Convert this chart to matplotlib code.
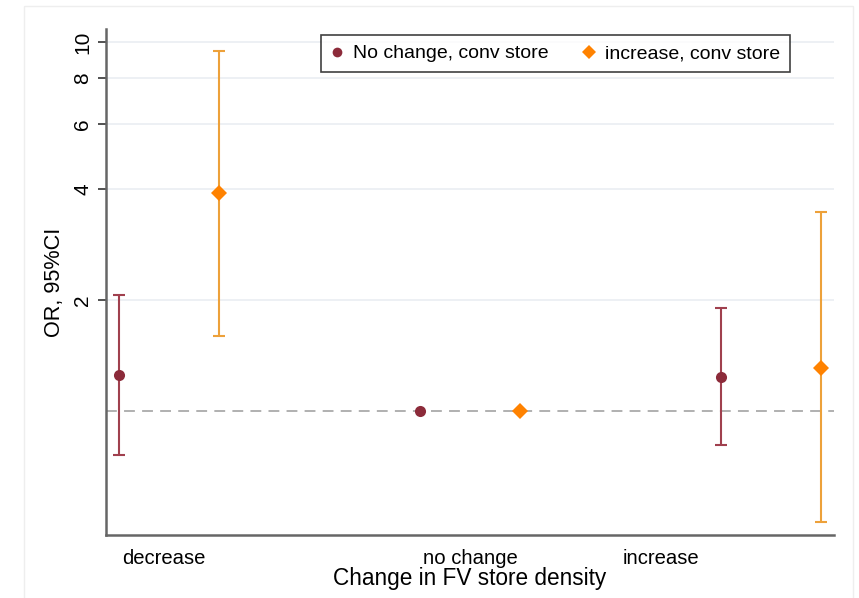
import matplotlib
matplotlib.use("Agg")
from matplotlib import pyplot as plt
from matplotlib.lines import Line2D
from matplotlib.patches import Rectangle

# data (odds ratios with 95% CI)
categories = ["decrease", "no change", "increase"]
label_pos = [0.45, 3.5, 5.4]

x_nochange = [0, 3, 6]
or_nochange = [1.25, 1.0, 1.24]
lo_nochange = [0.76, 1.0, 0.81]
hi_nochange = [2.06, 1.0, 1.90]

x_increase = [1, 4, 7]
or_increase = [3.89, 1.0, 1.31]
lo_increase = [1.60, 1.0, 0.50]
hi_increase = [9.46, 1.0, 3.46]

red = "#8c2b3a"
red_bar = "#a0404e"
orange = "#ff8200"
orange_bar = "#eda13a"

plt.rcParams['font.family'] = ['Liberation Sans', 'DejaVu Sans']

fig = plt.figure(figsize=(8.59, 5.98), dpi=100)
ax = fig.add_axes([106 / 859, 1 - 535 / 598, (834 - 106) / 859, (535 - 29) / 598])

# faint outer region frame
fig.patches.append(Rectangle((24 / 859, -0.01), (853 - 24) / 859, 1 - 6 / 598 + 0.01,
                             transform=fig.transFigure, fill=False,
                             edgecolor="#eeeeee", linewidth=1.0))

ax.set_yscale("log")
ax.set_ylim(0.462, 10.85)
ax.set_xlim(-0.13, 7.13)

ax.axhline(1, color="#aaaaaa", linestyle=(0, (6, 4)), linewidth=1.3, zorder=1)

def draw(xs, ors, los, his, bar_col, mk_col, marker, ms):
    for x, o, lo, hi in zip(xs, ors, los, his):
        if hi > lo:
            ax.errorbar([x], [o], yerr=[[o - lo], [hi - o]], fmt="none",
                        ecolor=bar_col, elinewidth=1.5, capsize=4.3,
                        capthick=1.5, zorder=2)
    ax.plot(xs, ors, linestyle="none", marker=marker, color=mk_col,
            markersize=ms, markeredgewidth=0, zorder=3)

draw(x_nochange, or_nochange, lo_nochange, hi_nochange, red_bar, red, "o", 8)
draw(x_increase, or_increase, lo_increase, hi_increase, orange_bar, orange, "D", 8)

ax.set_yticks([2, 4, 6, 8, 10])
ax.set_yticklabels(["2", "4", "6", "8", "10"], rotation=90, va="center")
ax.yaxis.set_minor_locator(matplotlib.ticker.NullLocator())
ax.tick_params(axis="y", length=6, width=1.2, color="#333333", labelsize=15, pad=4)
ax.grid(axis="y", color="#eaeef2", linewidth=1.2)

ax.set_xticks(label_pos)
ax.set_xticklabels(categories)
ax.tick_params(axis="x", length=0, labelsize=14.6, pad=10)

for side in ["top", "right"]:
    ax.spines[side].set_visible(False)
for side in ["left", "bottom"]:
    ax.spines[side].set_color("#666666")
    ax.spines[side].set_linewidth(1.8)

ax.set_xlabel("Change in FV store density", fontsize=16.3, labelpad=-1)
ax.set_ylabel("OR, 95%CI", fontsize=15.6, labelpad=6)

handles = [
    Line2D([], [], linestyle="none", marker="o", color=red, markersize=7, markeredgewidth=0),
    Line2D([], [], linestyle="none", marker="D", color=orange, markersize=7, markeredgewidth=0),
]
leg = ax.legend(handles, ["No change, conv store", "increase, conv store"],
                loc="upper left", bbox_to_anchor=((321 - 106) / 728, 1 - (35 - 29) / 506),
                ncol=2, fontsize=14, frameon=True, fancybox=False,
                handletextpad=0.55, columnspacing=1.75, handlelength=0.6,
                borderpad=0.5, borderaxespad=0)
leg.get_frame().set_edgecolor("#111111")
leg.get_frame().set_linewidth(1.2)

fig.savefig("out.png", dpi=100)
